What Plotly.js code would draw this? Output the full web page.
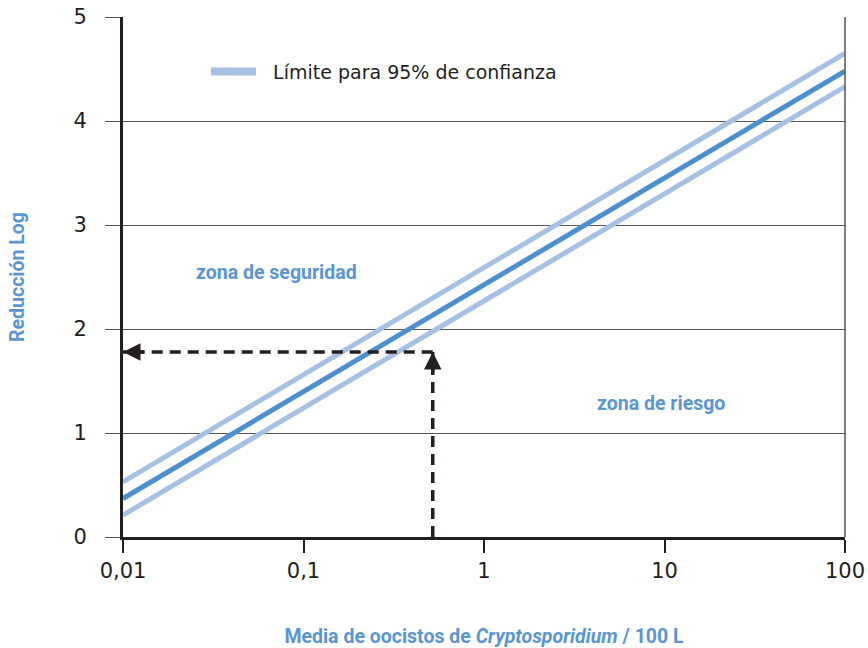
<!DOCTYPE html>
<html>
<head>
<meta charset="utf-8">
<script src="https://cdn.plot.ly/plotly-3.0.1.min.js"></script>
<style>html,body{margin:0;padding:0;background:#fff;}#chart{width:868px;height:648px;}</style>
</head>
<body>
<div id="chart"></div>
<script>
// Data
const xEnds = [0.01, 100];
const centerY = [0.37, 4.48];
const upperY = [0.53, 4.65];
const lowerY = [0.21, 4.33];
const legendName = 'Límite para 95% de confianza';

const xTickVals = [0.01, 0.1, 1, 10, 100];
const xTickText = ['0,01', '0,1', '1', '10', '100'];
const yTickVals = [0, 1, 2, 3, 4, 5];

// Example reading (arrows)
const exampleX = 0.52;
const exampleY = 1.78;
const verticalArrowX = [exampleX, exampleX];
const verticalArrowY = [0, exampleY];
const horizontalArrowX = [exampleX, 0.01];
const horizontalArrowY = [exampleY, exampleY];

const zoneLabels = ['zona de seguridad', 'zona de riesgo'];
const zoneX = [0.0705, 9.57];
const zoneY = [2.54, 1.28];

const xTitle = 'Media de oocistos de <i>Cryptosporidium</i> / 100 L';
const yTitle = 'Reducción Log';

const lightBlue = '#a6c1e4';
const midBlue = '#4d8fcf';
const titleBlue = '#5b96d3';
const dark = '#231f20';
const boldFont = 'Roboto, "Liberation Sans", sans-serif';
const bodyFont = '"DejaVu Sans", "Open Sans", sans-serif';

const traces = [
  {x: xEnds, y: upperY, mode: 'lines', showlegend: false,
   line: {color: lightBlue, width: 5}, hoverinfo: 'skip'},
  {x: xEnds, y: lowerY, mode: 'lines', showlegend: false,
   line: {color: lightBlue, width: 5}, hoverinfo: 'skip'},
  {x: xEnds, y: centerY, mode: 'lines', showlegend: false,
   line: {color: midBlue, width: 5}, hoverinfo: 'skip'},
  {x: verticalArrowX, y: verticalArrowY, mode: 'lines', showlegend: false,
   line: {color: dark, width: 3.5, dash: '11px,7px'}, hoverinfo: 'skip'},
  {x: horizontalArrowX, y: horizontalArrowY, mode: 'lines', showlegend: false,
   line: {color: dark, width: 3.5, dash: '11px,7px'}, hoverinfo: 'skip'},
  // legend entry for the confidence limits
  {x: [null], y: [null], mode: 'lines', name: '\u00a0\u00a0' + legendName, showlegend: true,
   line: {color: lightBlue, width: 8}, hoverinfo: 'skip'}
];

const annotations = zoneLabels.map((t, i) => ({
  x: Math.log10(zoneX[i]), y: zoneY[i], xref: 'x', yref: 'y',
  text: '<b>' + t + '</b>', showarrow: false,
  font: {family: boldFont, size: 19.5, color: titleBlue}
}));
// arrowheads
annotations.push({
  x: Math.log10(verticalArrowX[1]), y: verticalArrowY[1], xref: 'x', yref: 'y',
  ax: 0, ay: 22, axref: 'pixel', ayref: 'pixel', text: '', showarrow: true,
  arrowhead: 2, arrowsize: 1, arrowwidth: 3.5, arrowcolor: dark, standoff: 0
});
annotations.push({
  x: Math.log10(horizontalArrowX[1]), y: horizontalArrowY[1], xref: 'x', yref: 'y',
  ax: 22, ay: 0, axref: 'pixel', ayref: 'pixel', text: '', showarrow: true,
  arrowhead: 2, arrowsize: 1, arrowwidth: 3.5, arrowcolor: dark, standoff: 0
});

const layout = {
  width: 868, height: 648,
  margin: {l: 123, r: 23, t: 17, b: 111},
  paper_bgcolor: '#fff', plot_bgcolor: '#fff',
  font: {family: bodyFont, size: 19, color: dark},
  showlegend: true,
  legend: {x: 0.115, y: 0.895, xanchor: 'left', yanchor: 'middle',
           bgcolor: 'rgba(0,0,0,0)', font: {family: bodyFont, size: 19, color: dark},
           itemwidth: 45},
  xaxis: {
    type: 'log', range: [-2, 2],
    tickvals: xTickVals, ticktext: xTickText,
    ticks: 'outside', ticklen: 13, tickwidth: 2, tickcolor: dark,
    showgrid: false, zeroline: false,
    showline: true, linecolor: dark, linewidth: 2.5,
    tickfont: {family: bodyFont, size: 21, color: dark},
    title: {text: '<b>' + xTitle + '</b>', font: {family: boldFont, size: 19.5, color: titleBlue}, standoff: 48},
    automargin: false
  },
  yaxis: {
    range: [0, 5], tickvals: yTickVals,
    ticks: 'outside', ticklen: 15, tickwidth: 1, tickcolor: '#555',
    showgrid: true, gridcolor: '#555', gridwidth: 1,
    zeroline: false,
    showline: true, linecolor: dark, linewidth: 3,
    ticklabelstandoff: 14,
    tickfont: {family: bodyFont, size: 21, color: dark},
    title: {text: '<b>' + yTitle + '</b>', font: {family: boldFont, size: 19.5, color: titleBlue}, standoff: 44},
    automargin: false
  },
  shapes: [
    {type: 'line', xref: 'paper', yref: 'paper', x0: 1, x1: 1, y0: 0, y1: 1,
     line: {color: '#555', width: 1.5}}
  ],
  annotations: annotations
};

Plotly.newPlot('chart', traces, layout, {displayModeBar: false, staticPlot: true});
</script>
</body>
</html>
